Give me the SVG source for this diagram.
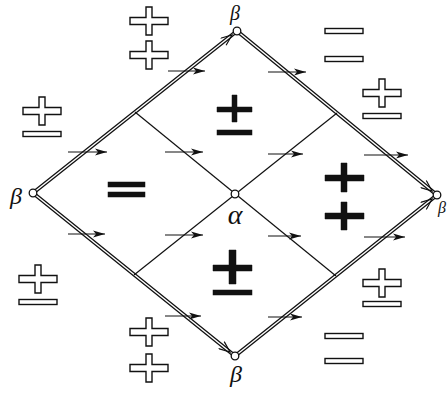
<svg xmlns="http://www.w3.org/2000/svg" width="447" height="394" viewBox="0 0 447 394">
<style>
.edgeO{stroke:#111;stroke-width:4;fill:none;stroke-linecap:round}
.edgeI{stroke:#fff;stroke-width:1.4;fill:none}
.inner{stroke:#111;stroke-width:1.2;fill:none}
.arr{stroke:#111;stroke-width:1.2;fill:none}
.o{fill:#fff;stroke:#111;stroke-width:1.4}
.f{fill:#111;stroke:#111;stroke-width:0.5}
.node{fill:#fff;stroke:#111;stroke-width:1.3}
.lbl{font-family:"Liberation Serif",serif;font-style:italic;fill:#111;text-anchor:middle}
</style>
<defs>
<marker id="ah" markerUnits="userSpaceOnUse" markerWidth="14" markerHeight="10" refX="12" refY="5" orient="auto">
<path d="M0,1.5 L12,5 L0,8.5 L3,5 Z" fill="#111"/>
</marker>
<marker id="eh" markerUnits="userSpaceOnUse" markerWidth="14" markerHeight="10" refX="12" refY="5" orient="auto">
<path d="M1,0.5 L12,5 L1,9.5" fill="none" stroke="#111" stroke-width="1.2"/>
</marker>
<path id="plus" d="M-19,-3.5 H-3 V-14 H3 V-3.5 H19 V3.5 H3 V14 H-3 V3.5 H-19 Z"/>
<rect id="minus" x="-19" y="-2.5" width="38" height="5"/>
</defs>

<g id="connectors">
<g id="edges">
<path class="edgeO" d="M33,193 L237,31"/>
<path class="edgeI" d="M33,193 L237,31"/>
<path class="edgeO" d="M237,31 L437,195"/>
<path class="edgeI" d="M237,31 L437,195"/>
<path class="edgeO" d="M33,193 L235,356"/>
<path class="edgeI" d="M33,193 L235,356"/>
<path class="edgeO" d="M235,356 L437,195"/>
<path class="edgeI" d="M235,356 L437,195"/>
<path d="M200,60 L232,35" fill="none" stroke="none" marker-end="url(#eh)"/>
<path d="M400,165 L432,191" fill="none" stroke="none" marker-end="url(#eh)"/>
<path d="M400,225 L432,199" fill="none" stroke="none" marker-end="url(#eh)"/>
<path d="M200,328 L230,352" fill="none" stroke="none" marker-end="url(#eh)"/>
</g>
<path class="inner" d="M135,112 L336,276"/>
<path class="inner" d="M337,113 L134,275"/>
<path class="arr" marker-end="url(#ah)" d="M168,71 H205"/>
<path class="arr" marker-end="url(#ah)" d="M268,72 H306"/>
<path class="arr" marker-end="url(#ah)" d="M68,152 H107"/>
<path class="arr" marker-end="url(#ah)" d="M165,152 H203"/>
<path class="arr" marker-end="url(#ah)" d="M268,154 H303"/>
<path class="arr" marker-end="url(#ah)" d="M364,155 H408"/>
<path class="arr" marker-end="url(#ah)" d="M68,234 H105"/>
<path class="arr" marker-end="url(#ah)" d="M165,235 H203"/>
<path class="arr" marker-end="url(#ah)" d="M268,236 H301"/>
<path class="arr" marker-end="url(#ah)" d="M364,237 H405"/>
<path class="arr" marker-end="url(#ah)" d="M165,316 H201"/>
<path class="arr" marker-end="url(#ah)" d="M268,317 H302"/>
</g>

<g id="node-left"><circle class="node" cx="33" cy="193" r="3.8"/><text class="lbl" x="16" y="204" font-size="24">β</text></g>
<g id="node-top"><circle class="node" cx="237" cy="31" r="3.8"/><text class="lbl" x="235" y="20" font-size="20">β</text></g>
<g id="node-right"><circle class="node" cx="437" cy="195" r="3.8"/><text class="lbl" x="446" y="213" font-size="16" style="text-anchor:end">β</text></g>
<g id="node-bottom"><circle class="node" cx="235" cy="356" r="3.8"/><text class="lbl" x="236" y="382" font-size="24">β</text></g>
<g id="node-center"><circle class="node" cx="235" cy="194" r="3.8"/><text class="lbl" x="235" y="224" font-size="28">α</text></g>

<g id="signs-outside">
<use href="#plus" class="o" x="149" y="21"/>
<use href="#plus" class="o" x="149" y="55"/>
<use href="#minus" class="o" x="344" y="31"/>
<use href="#minus" class="o" x="344" y="59"/>
<use href="#plus" class="o" x="382" y="93"/>
<use href="#minus" class="o" x="382" y="116"/>
<use href="#plus" class="o" x="42" y="111"/>
<use href="#minus" class="o" x="42" y="134"/>
<use href="#plus" class="o" x="38" y="279"/>
<use href="#minus" class="o" x="38" y="302"/>
<use href="#plus" class="o" x="149" y="332"/>
<use href="#plus" class="o" x="149" y="368"/>
<use href="#plus" class="o" x="382" y="283"/>
<use href="#minus" class="o" x="382" y="304"/>
<use href="#minus" class="o" x="344" y="336"/>
<use href="#minus" class="o" x="344" y="361"/>
</g>

<g id="signs-inside">
<path class="f" d="M217,107 H232 V95 H237 V107 H252 V112 H237 V122 H232 V112 H217 Z"/>
<rect class="f" x="217" y="130" width="35" height="5"/>
<rect class="f" x="108" y="182" width="37" height="5"/>
<rect class="f" x="108" y="192" width="37" height="5"/>
<path class="f" d="M325,175 H341 V163 H347 V175 H364 V181 H347 V192 H341 V181 H325 Z"/>
<path class="f" d="M325,213 H341 V202 H347 V213 H364 V219 H347 V230 H341 V219 H325 Z"/>
<path class="f" d="M213,265 H229 V250 H236 V265 H252 V271 H236 V284 H229 V271 H213 Z"/>
<rect class="f" x="213" y="290" width="39" height="5"/>
</g>
</svg>
